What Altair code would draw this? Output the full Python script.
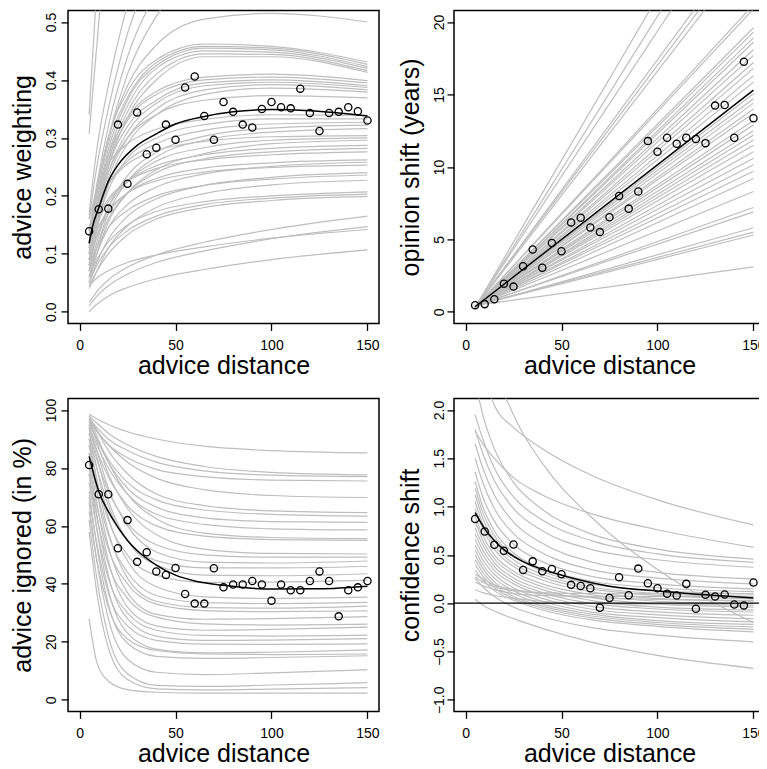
import altair as alt
import pandas as pd

# ---------------- shared values ----------------
advice_distance = list(range(5, 151, 5))
curve_x = [5, 9, 15, 25, 40, 65, 100, 150]
x_ticks = [0, 50, 100, 150]

# ---------------- panel 1: advice weighting ----------------
weight_points = [0.139, 0.177, 0.178, 0.323, 0.221, 0.344, 0.272, 0.283, 0.323, 0.297,
                 0.387, 0.406, 0.338, 0.297, 0.362, 0.345, 0.323, 0.318, 0.350, 0.362,
                 0.353, 0.351, 0.385, 0.343, 0.312, 0.343, 0.345, 0.353, 0.346, 0.330]
weight_fit_x = [5, 7, 10, 15, 20, 30, 40, 50, 65, 80, 100, 120, 150]
weight_fit_y = [0.118, 0.15, 0.179, 0.225, 0.253, 0.287, 0.307, 0.324, 0.337, 0.345, 0.349, 0.347, 0.338]
weight_curves = [
    [0.34, 0.56, 0.85, 1.2, 1.5, 1.8, 2.0, 2.1],
    [0.307, 0.46, 0.68, 0.95, 1.2, 1.4, 1.5, 1.5],
    [0.17, 0.28, 0.39, 0.53, 0.68, 0.8, 0.85, 0.83],
    [0.16, 0.25, 0.35, 0.48, 0.6, 0.69, 0.72, 0.7],
    [0.14, 0.22, 0.32, 0.44, 0.55, 0.63, 0.65, 0.63],
    [0.13, 0.21, 0.3, 0.41, 0.51, 0.58, 0.6, 0.58],
    [0.14, 0.21, 0.3, 0.39, 0.46, 0.505, 0.515, 0.50],
    [0.13, 0.21, 0.30, 0.38, 0.435, 0.462, 0.458, 0.431],
    [0.12, 0.20, 0.29, 0.37, 0.43, 0.458, 0.455, 0.427],
    [0.11, 0.19, 0.28, 0.365, 0.425, 0.455, 0.452, 0.423],
    [0.10, 0.18, 0.27, 0.355, 0.42, 0.45, 0.448, 0.420],
    [0.09, 0.17, 0.26, 0.345, 0.41, 0.445, 0.444, 0.416],
    [0.08, 0.16, 0.25, 0.335, 0.40, 0.44, 0.44, 0.413],
    [0.12, 0.19, 0.27, 0.335, 0.38, 0.405, 0.41, 0.399],
    [0.11, 0.18, 0.26, 0.33, 0.375, 0.40, 0.405, 0.395],
    [0.10, 0.17, 0.25, 0.32, 0.365, 0.395, 0.40, 0.390],
    [0.09, 0.16, 0.24, 0.31, 0.36, 0.39, 0.396, 0.387],
    [0.08, 0.15, 0.23, 0.30, 0.35, 0.383, 0.392, 0.383],
    [0.07, 0.14, 0.22, 0.29, 0.34, 0.375, 0.386, 0.379],
    [0.10, 0.17, 0.24, 0.30, 0.34, 0.365, 0.373, 0.369],
    [0.16, 0.21, 0.255, 0.29, 0.315, 0.332, 0.34, 0.339],
    [0.09, 0.15, 0.21, 0.265, 0.30, 0.323, 0.333, 0.333],
    [0.12, 0.17, 0.22, 0.26, 0.29, 0.313, 0.324, 0.327],
    [0.07, 0.12, 0.18, 0.235, 0.275, 0.303, 0.317, 0.322],
    [0.06, 0.11, 0.17, 0.225, 0.267, 0.296, 0.31, 0.316],
    [0.14, 0.18, 0.22, 0.255, 0.278, 0.294, 0.302, 0.304],
    [0.08, 0.13, 0.18, 0.225, 0.26, 0.283, 0.296, 0.300],
    [0.05, 0.10, 0.155, 0.205, 0.245, 0.273, 0.29, 0.296],
    [0.11, 0.15, 0.19, 0.225, 0.252, 0.271, 0.282, 0.287],
    [0.07, 0.11, 0.16, 0.205, 0.24, 0.264, 0.276, 0.282],
    [0.13, 0.16, 0.195, 0.225, 0.247, 0.262, 0.271, 0.276],
    [0.09, 0.13, 0.17, 0.205, 0.23, 0.248, 0.257, 0.262],
    [0.06, 0.10, 0.145, 0.185, 0.215, 0.238, 0.251, 0.258],
    [0.10, 0.14, 0.175, 0.205, 0.226, 0.241, 0.249, 0.253],
    [0.05, 0.085, 0.125, 0.165, 0.195, 0.218, 0.232, 0.240],
    [0.08, 0.11, 0.145, 0.175, 0.2, 0.218, 0.229, 0.236],
    [0.04, 0.07, 0.11, 0.148, 0.18, 0.204, 0.219, 0.227],
    [0.06, 0.09, 0.12, 0.15, 0.173, 0.19, 0.2, 0.207],
    [0.05, 0.08, 0.11, 0.14, 0.165, 0.185, 0.196, 0.203],
    [0.045, 0.07, 0.10, 0.133, 0.16, 0.18, 0.192, 0.199],
    [0.016, 0.035, 0.055, 0.077, 0.098, 0.12, 0.142, 0.165],
    [0.01, 0.027, 0.045, 0.065, 0.085, 0.105, 0.126, 0.147],
    [0.045, 0.058, 0.071, 0.085, 0.098, 0.112, 0.127, 0.142],
    [0.0, 0.013, 0.027, 0.042, 0.057, 0.073, 0.09, 0.107],
]

# ---------------- panel 2: opinion shift ----------------
shift_points = [0.46, 0.53, 0.87, 1.94, 1.74, 3.15, 4.30, 3.04, 4.75, 4.18,
                6.17, 6.49, 5.82, 5.50, 6.53, 7.99, 7.12, 8.30, 11.78, 11.05,
                12.01, 11.60, 12.01, 11.92, 11.64, 14.23, 14.27, 12.01, 17.26, 13.36]
shift_fit_x = [5, 150]
shift_fit_y = [0.35, 15.3]
shift_line_x = [5, 150]
shift_lines = [
    [0.30, 33.0], [0.28, 31.0], [0.32, 29.4], [0.30, 26.4], [0.34, 25.8], [0.29, 25.2],
    [0.31, 21.2], [0.33, 20.9], [0.30, 19.6], [0.35, 19.3], [0.28, 18.9], [0.32, 18.6],
    [0.30, 18.1], [0.36, 17.7], [0.29, 17.2], [0.33, 16.8], [0.31, 16.3], [0.34, 15.85],
    [0.30, 15.05], [0.37, 14.7], [0.32, 14.4], [0.29, 14.0], [0.35, 13.7], [0.31, 13.2],
    [0.33, 12.9], [0.38, 12.5], [0.30, 12.2], [0.34, 11.85], [0.36, 11.5], [0.32, 11.05],
    [0.39, 10.6], [0.35, 10.15], [0.40, 9.7], [0.37, 9.2], [0.41, 8.3], [0.38, 7.2],
    [0.42, 6.9], [0.40, 5.8], [0.43, 5.5], [0.41, 5.3], [0.44, 3.1],
]

# ---------------- panel 3: advice ignored ----------------
ignored_points = [81.0, 70.9, 70.9, 52.3, 62.0, 47.6, 50.9, 44.3, 43.1, 45.5,
                  36.5, 33.2, 33.2, 45.4, 38.8, 39.8, 39.8, 41.0, 39.8, 34.2,
                  39.8, 37.8, 37.8, 41.0, 44.3, 41.0, 28.8, 37.8, 38.8, 41.0]
ignored_fit_x = [5, 10, 15, 20, 25, 30, 40, 50, 60, 75, 100, 125, 150]
ignored_fit_y = [84, 72, 65, 59.5, 55, 51.5, 46.5, 43, 41, 39.5, 38.2, 38.3, 39.2]
ignored_curves = [
    [98.5, 97, 95, 92.5, 90, 87.5, 86, 85.2],
    [98, 95.5, 92, 88, 84, 80.5, 78.5, 77.6],
    [97, 94, 90, 86, 82, 79, 77.5, 77.0],
    [96, 92.5, 88, 83.5, 79.5, 77, 75.8, 75.5],
    [97, 93, 88, 82, 76.5, 72.5, 70.5, 69.8],
    [98, 93, 86, 78, 71, 67, 65.2, 64.6],
    [95, 90, 83, 75, 69, 65.5, 64, 63.4],
    [96, 90, 82, 73, 66.5, 62.8, 61.5, 61.2],
    [94, 88, 80, 71, 64, 60.5, 59, 58.6],
    [97, 91, 82, 71, 62.5, 57.5, 56, 55.6],
    [93, 86, 77, 67, 60, 56.5, 55.3, 55.0],
    [96, 89, 78, 66, 57, 52, 50.5, 50.3],
    [92, 83, 72, 61, 53.5, 50, 49.2, 49.2],
    [95, 86, 73, 60, 51, 47.5, 47.2, 47.9],
    [90, 80, 67, 55, 48, 45.5, 45.5, 46.0],
    [94, 84, 69, 55, 46.5, 43, 42.8, 43.5],
    [88, 76, 62, 50, 43, 40.5, 40.6, 41.3],
    [92, 80, 63, 48, 39, 35.5, 35, 35.4],
    [85, 72, 57, 44, 36, 33.5, 33.2, 33.6],
    [90, 76, 58, 42, 34, 31.8, 31.6, 32.3],
    [80, 67, 52, 40, 33, 30.8, 30.4, 30.7],
    [88, 72, 53, 37, 29.5, 27.8, 28, 28.7],
    [78, 63, 47, 35, 28.5, 26.2, 25.8, 26.1],
    [85, 68, 48, 32, 25.5, 24, 24.3, 25.1],
    [75, 59, 42, 30, 24, 22.2, 22, 22.3],
    [82, 64, 43, 28, 22, 20.5, 20.6, 21.1],
    [70, 54, 37, 25.5, 20.5, 19.2, 19.1, 19.3],
    [78, 59, 38, 23, 17.5, 16.2, 16.4, 17.2],
    [65, 48, 32, 21, 17, 15.8, 15.6, 15.8],
    [72, 53, 33, 19.5, 15, 14.3, 14.6, 15.2],
    [68, 48, 28, 14, 9.5, 8.7, 9.3, 10.4],
    [62, 42, 22, 9, 5, 4.6, 5.1, 5.9],
    [58, 37, 18, 7, 3.8, 3.4, 3.7, 4.2],
    [28, 13, 6.5, 3.5, 2.6, 2.3, 2.3, 2.3],
]

# ---------------- panel 4: confidence shift ----------------
confidence_points = [0.872, 0.742, 0.605, 0.543, 0.608, 0.344, 0.433, 0.330, 0.354, 0.299,
                     0.190, 0.179, 0.155, -0.047, 0.053, 0.269, 0.083, 0.358, 0.207, 0.155,
                     0.097, 0.080, 0.200, -0.057, 0.087, 0.070, 0.090, -0.013, -0.023, 0.214]
confidence_fit_x = [5, 10, 15, 20, 30, 40, 50, 60, 75, 100, 125, 150]
confidence_fit_y = [0.937, 0.77, 0.65, 0.555, 0.43, 0.35, 0.29, 0.238, 0.176, 0.125, 0.087, 0.053]
confidence_curves = [
    [2.8, 2.4, 2.05, 1.82, 1.6, 1.33, 1.07, 0.81],
    [1.78, 1.65, 1.5, 1.3, 1.12, 0.93, 0.76, 0.578],
    [4.0, 3.2, 2.5, 1.95, 1.45, 0.9, 0.35, -0.2],
    [2.3, 1.95, 1.6, 1.25, 0.97, 0.72, 0.56, 0.457],
    [1.95, 1.7, 1.4, 1.1, 0.86, 0.65, 0.51, 0.423],
    [1.8, 1.55, 1.27, 0.98, 0.75, 0.56, 0.45, 0.372],
    [1.65, 1.4, 1.12, 0.84, 0.62, 0.43, 0.32, 0.251],
    [1.5, 1.25, 0.98, 0.72, 0.52, 0.35, 0.26, 0.2],
    [1.36, 1.1, 0.85, 0.61, 0.43, 0.28, 0.2, 0.148],
    [1.26, 1.0, 0.75, 0.52, 0.36, 0.23, 0.16, 0.12],
    [1.19, 0.94, 0.7, 0.49, 0.33, 0.2, 0.13, 0.097],
    [1.12, 0.88, 0.65, 0.45, 0.3, 0.17, 0.1, 0.07],
    [1.05, 0.82, 0.6, 0.41, 0.27, 0.15, 0.08, 0.046],
    [0.98, 0.77, 0.56, 0.38, 0.24, 0.12, 0.05, 0.02],
    [0.9, 0.7, 0.5, 0.33, 0.2, 0.09, 0.02, -0.006],
    [0.85, 0.65, 0.46, 0.3, 0.17, 0.06, -0.01, -0.04],
    [0.78, 0.6, 0.42, 0.26, 0.14, 0.03, -0.04, -0.07],
    [0.72, 0.55, 0.38, 0.23, 0.11, 0.0, -0.06, -0.091],
    [0.66, 0.5, 0.34, 0.2, 0.08, -0.03, -0.09, -0.125],
    [0.6, 0.45, 0.3, 0.16, 0.05, -0.06, -0.12, -0.16],
    [0.55, 0.4, 0.26, 0.13, 0.02, -0.09, -0.15, -0.194],
    [0.5, 0.36, 0.22, 0.1, -0.01, -0.11, -0.18, -0.22],
    [0.45, 0.32, 0.19, 0.07, -0.03, -0.13, -0.2, -0.246],
    [0.4, 0.28, 0.16, 0.05, -0.05, -0.15, -0.22, -0.27],
    [0.34, 0.24, 0.13, 0.03, -0.07, -0.17, -0.24, -0.297],
    [0.26, 0.17, 0.07, -0.04, -0.14, -0.25, -0.33, -0.40],
    [0.04, -0.02, -0.08, -0.16, -0.26, -0.4, -0.54, -0.674],
    [0.27, 0.22, 0.17, 0.13, 0.11, 0.1, 0.1, 0.1],
    [0.22, 0.18, 0.14, 0.1, 0.08, 0.07, 0.07, 0.07],
    [0.14, 0.11, 0.08, 0.05, 0.02, 0.0, -0.01, -0.02],
    [0.3, 0.25, 0.19, 0.14, 0.1, 0.06, 0.04, 0.03],
]

GREY = "#BEBEBE"
FONT = "Liberation Sans"
W = 311
H = 313


def panel(cx, curves, fx, fy, pts, ydom, yvals, yfmt, ytitle, right=False, hline=False):
    rows = [{"x": x, "y": y, "id": i} for i, c in enumerate(curves) for x, y in zip(cx, c)]
    xs = alt.Scale(domain=[-6, 156], nice=False, zero=False)
    ys = alt.Scale(domain=ydom, nice=False, zero=False)
    xax = alt.Axis(values=x_ticks, title="advice distance", labelPadding=8,
                   titlePadding=1.5, minExtent=29, maxExtent=29, labelFlush=False)
    yax = alt.Axis(values=yvals, format=yfmt, title=ytitle, labelAngle=270,
                   labelAlign="center", labelBaseline="alphabetic",
                   labelPadding=3.5 if right else 6, titlePadding=2.6 if right else 5,
                   minExtent=28, maxExtent=28, labelFlush=False)
    X = alt.X("x:Q", scale=xs, axis=xax)
    Y = alt.Y("y:Q", scale=ys, axis=yax)
    grey = alt.Chart(pd.DataFrame(rows)).mark_line(
        color=GREY, strokeWidth=1.2, clip=True, interpolate="monotone"
    ).encode(x=X, y=Y, detail="id:N")
    layers = [grey]
    if hline:
        layers.append(alt.Chart(pd.DataFrame({"y": [0]})).mark_rule(
            color="black", strokeWidth=1.2).encode(y=Y))
    fit = alt.Chart(pd.DataFrame({"x": fx, "y": fy})).mark_line(
        color="black", strokeWidth=1.5, clip=True, interpolate="monotone"
    ).encode(x=X, y=Y)
    dots = alt.Chart(pd.DataFrame({"x": advice_distance, "y": pts})).mark_point(
        shape="circle", filled=False, color="black", size=52, strokeWidth=1.3, opacity=1
    ).encode(x=X, y=Y)
    layers += [fit, dots]
    return alt.layer(*layers).properties(width=W, height=H)


p1 = panel(curve_x, weight_curves, weight_fit_x, weight_fit_y, weight_points,
           [-0.02, 0.52], [0, 0.1, 0.2, 0.3, 0.4, 0.5], ".1f", "advice weighting")
p2 = panel(shift_line_x, shift_lines, shift_fit_x, shift_fit_y, shift_points,
           [-0.8, 20.8], [0, 5, 10, 15, 20], "d", "opinion shift (years)", right=True)
p3 = panel(curve_x, ignored_curves, ignored_fit_x, ignored_fit_y, ignored_points,
           [-4, 104], [0, 20, 40, 60, 80, 100], "d", "advice ignored (in %)")
p4 = panel(curve_x, confidence_curves, confidence_fit_x, confidence_fit_y, confidence_points,
           [-1.12, 2.12], [-1.0, -0.5, 0.0, 0.5, 1.0, 1.5, 2.0], ".1f", "confidence shift",
           right=True, hline=True)

chart = alt.concat(
    p1, p2, p3, p4, columns=2, spacing={"row": 75, "column": 75}, bounds="flush",
).resolve_scale(
    x="independent", y="independent"
).properties(
    padding={"left": 1, "top": 1.4, "right": -8, "bottom": -6.25}
).configure_view(
    stroke="black", strokeWidth=1.5
).configure_axis(
    grid=False, domain=False, ticks=True, tickColor="black", tickSize=7, tickWidth=1.3,
    labelFont=FONT, labelFontSize=14, labelColor="black",
    titleFont=FONT, titleFontSize=25, titleFontWeight="normal", titleColor="black",
)

chart.save("out.html", embed_options={"renderer": "svg", "actions": False})
